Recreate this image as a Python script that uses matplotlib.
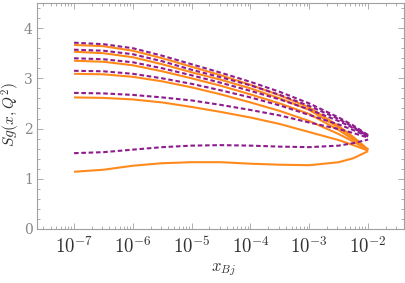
import numpy as np
import matplotlib
matplotlib.use("Agg")
import matplotlib.pyplot as plt
from matplotlib.ticker import LogLocator, NullFormatter, FixedLocator, MultipleLocator

plt.rcParams['mathtext.fontset'] = 'cm'
plt.rcParams['font.family'] = ['DejaVu Serif']

# log10(x) sample positions
logx = [-7, -6.5, -6, -5.5, -5, -4.5, -4, -3.5, -3, -2.5, -2.25, -2]

purple_1 = [3.71, 3.68, 3.60, 3.45, 3.28, 3.11, 2.93, 2.73, 2.50, 2.22, 2.06, 1.87]
purple_2 = [3.57, 3.55, 3.48, 3.34, 3.17, 3.02, 2.86, 2.67, 2.45, 2.19, 2.03, 1.86]
purple_3 = [3.40, 3.38, 3.32, 3.20, 3.06, 2.91, 2.75, 2.58, 2.38, 2.15, 2.01, 1.85]
purple_4 = [3.15, 3.14, 3.09, 3.00, 2.89, 2.76, 2.62, 2.46, 2.27, 2.08, 1.97, 1.84]
purple_5 = [2.71, 2.70, 2.67, 2.62, 2.56, 2.47, 2.37, 2.26, 2.12, 1.99, 1.91, 1.82]
purple_6 = [1.51, 1.53, 1.58, 1.63, 1.66, 1.67, 1.66, 1.64, 1.63, 1.66, 1.71, 1.78]

orange_1 = [3.665, 3.64, 3.55, 3.40, 3.23, 3.06, 2.87, 2.66, 2.42, 2.05, 1.83, 1.58]
orange_2 = [3.53, 3.50, 3.42, 3.28, 3.12, 2.97, 2.80, 2.60, 2.37, 2.02, 1.81, 1.58]
orange_3 = [3.35, 3.33, 3.26, 3.14, 3.00, 2.85, 2.68, 2.50, 2.29, 1.97, 1.78, 1.57]
orange_4 = [3.09, 3.08, 3.03, 2.94, 2.82, 2.68, 2.52, 2.35, 2.15, 1.89, 1.74, 1.57]
orange_5 = [2.62, 2.61, 2.58, 2.52, 2.43, 2.33, 2.22, 2.09, 1.93, 1.77, 1.67, 1.56]
orange_6 = [1.14, 1.18, 1.26, 1.31, 1.33, 1.33, 1.30, 1.28, 1.27, 1.33, 1.41, 1.55]

purples = [purple_1, purple_2, purple_3, purple_4, purple_5, purple_6]
oranges = [orange_1, orange_2, orange_3, orange_4, orange_5, orange_6]

x_ticks = [1e-7, 1e-6, 1e-5, 1e-4, 1e-3, 1e-2]
x_ticklabels = [r'$10^{-7}$', r'$10^{-6}$', r'$10^{-5}$', r'$10^{-4}$', r'$10^{-3}$', r'$10^{-2}$']
y_ticks = [0, 1, 2, 3, 4]

ORANGE = '#FF8A1C'
PURPLE = '#8E1C8E'
FRAME = '#A0A0A0'

fig = plt.figure(figsize=(4.06, 2.83), dpi=100)
ax = fig.add_axes([37/406, 1-229/283, (404-37)/406, (229-3)/283])

xs = 10.0 ** np.array(logx)
for ys in oranges:
    ax.plot(xs, ys, color=ORANGE, lw=1.5, solid_capstyle='butt', solid_joinstyle='round', zorder=2)
for ys in purples:
    ax.plot(xs, ys, color=PURPLE, lw=1.5, ls=(0, (2.2, 1.3)), zorder=3)

ax.set_xscale('log')
ax.set_xlim(10**-7.63, 10**-1.39)
ax.set_ylim(0, 4.5)

ax.xaxis.set_major_locator(FixedLocator(x_ticks))
ax.set_xticklabels(x_ticklabels)
ax.xaxis.set_minor_locator(LogLocator(base=10, subs=np.arange(2, 10), numticks=20))
ax.xaxis.set_minor_formatter(NullFormatter())
ax.yaxis.set_major_locator(FixedLocator(y_ticks))
ax.set_yticklabels([str(v) for v in y_ticks])
ax.yaxis.set_minor_locator(MultipleLocator(0.2))

for s in ax.spines.values():
    s.set_color(FRAME)
    s.set_linewidth(0.8)

ax.tick_params(which='both', direction='in', top=True, right=True, color=FRAME, width=0.6)
ax.tick_params(which='major', length=4)
ax.tick_params(which='minor', length=2)
ax.tick_params(axis='x', which='major', labelsize=13.5, labelcolor='#333333', pad=5)
ax.tick_params(axis='y', which='major', labelsize=10, labelcolor='#888888', pad=3)

ax.set_xlabel(r'$x_{Bj}$', fontsize=12, color='#333333')
ax.xaxis.set_label_coords((223-37)/367, -(261-229)/226)
ax.set_ylabel(r'$Sg(x,Q^2)$', fontsize=11, color='#333333')
ax.yaxis.set_label_coords(-(37-22)/367, (229-115)/226)

fig.savefig('out.png', dpi=100)
